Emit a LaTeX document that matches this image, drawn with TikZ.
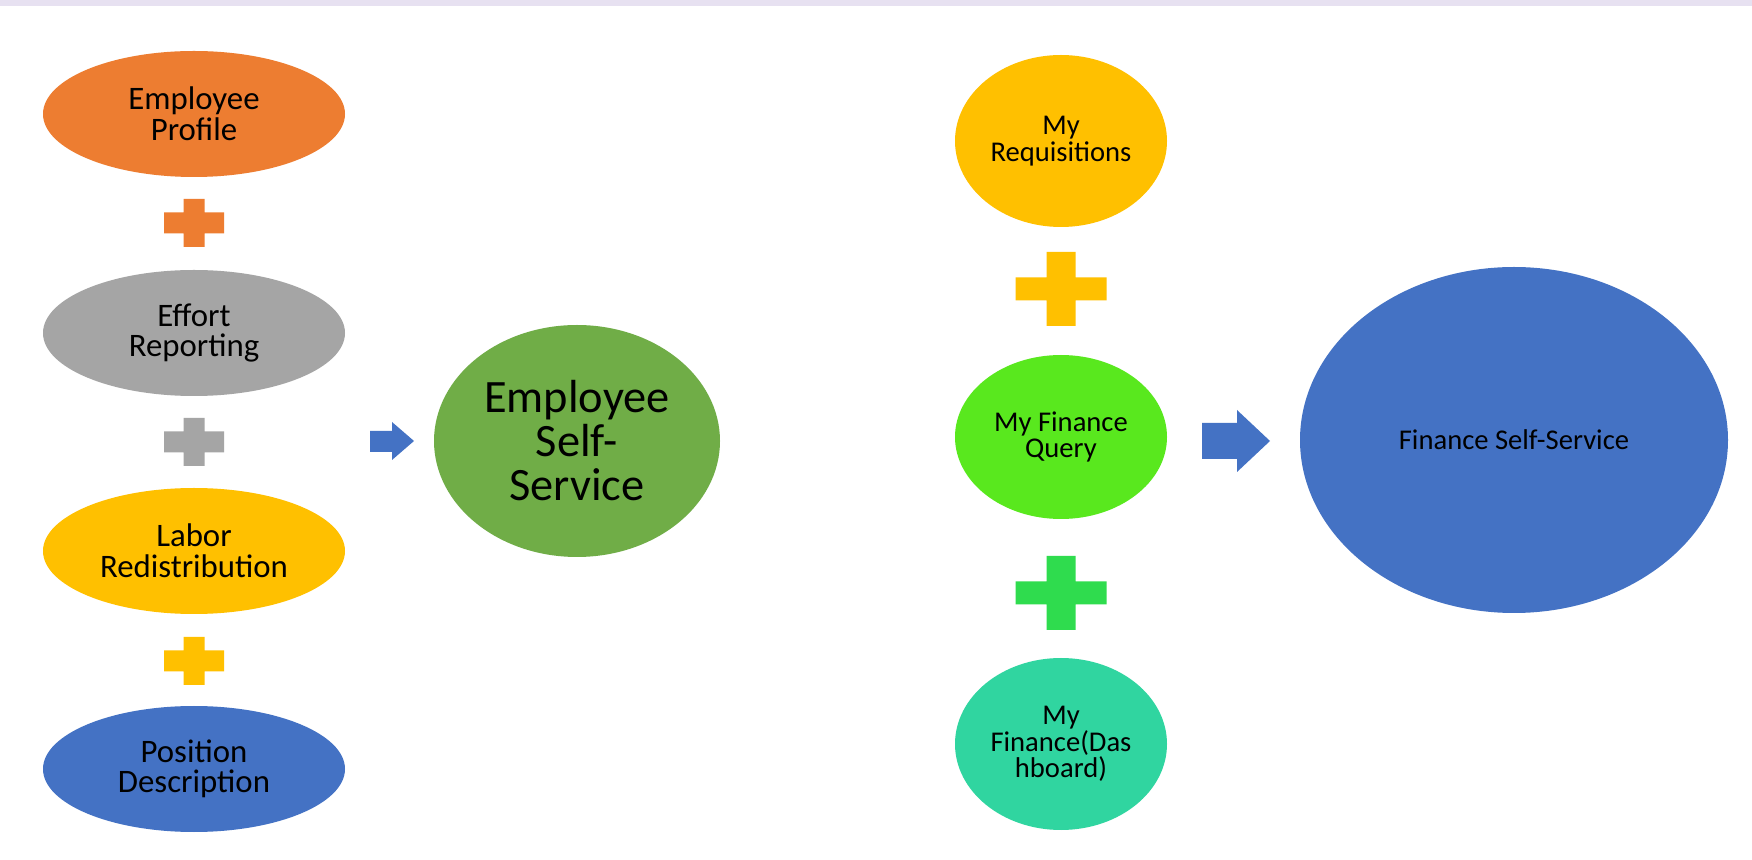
\documentclass[tikz,border=0pt]{standalone}
\usepackage{fontspec}
\setmainfont{Carlito}
\usetikzlibrary{shapes.geometric}
\definecolor{cOrange}{HTML}{ED7D31}
\definecolor{cGray}{HTML}{A5A5A5}
\definecolor{cGold}{HTML}{FFC000}
\definecolor{cBlue}{HTML}{4472C4}
\definecolor{cGreen}{HTML}{70AD47}
\definecolor{cLime}{HTML}{59E81E}
\definecolor{cPlusGreen}{HTML}{2FDC4E}
\definecolor{cTeal}{HTML}{30D5A0}
\definecolor{cBand}{HTML}{E7E1F1}
\begin{document}
\begin{tikzpicture}[x=0.5pt,y=-0.5pt,
  blob/.style={ellipse, inner sep=0pt, align=center, text=black},
  leftblob/.style={blob, minimum width=151pt, minimum height=63pt, font=\fontsize{16.4}{15.3}\selectfont},
  rightblob/.style={blob, minimum width=106pt, font=\fontsize{14.3}{13.4}\selectfont},
]
\useasboundingbox (0,0) rectangle (1752,860);
\fill[white] (0,0) rectangle (1752,860);
\fill[cBand] (0,0) rectangle (1752,6);

% left column
\node[leftblob, fill=cOrange] (ep) at (194,114) {Employee\\Profile};
\node[leftblob, fill=cGray]   (er) at (194,333) {Effort\\Reporting};
\node[leftblob, fill=cGold]   (lr) at (194,551) {Labor\\Redistribution};
\node[leftblob, fill=cBlue]   (pd) at (194,769) {Position\\Description};

% left pluses (w 60, h 48, arms 21)
\fill[cOrange] (164,212.5) rectangle (224,233.5) (183.5,199) rectangle (204.5,247);
\fill[cGray]   (164,431.5) rectangle (224,452.5) (183.5,418) rectangle (204.5,466);
\fill[cGold]   (164,650.5) rectangle (224,671.5) (183.5,637) rectangle (204.5,685);

% left arrow
\fill[cBlue] (370,431) -- (392,431) -- (392,422) -- (414,441) -- (392,460) -- (392,452) -- (370,452) -- cycle;

% employee self-service
\node[blob, fill=cGreen, minimum width=143pt, minimum height=116pt, font=\fontsize{23.2}{22}\selectfont] (ess) at (577,441) {Employee\\Self-\\Service};

% right column
\node[rightblob, fill=cGold, minimum height=86pt] (mr) at (1061,141) {My\\Requisitions};
\node[rightblob, fill=cLime, minimum height=82pt] (mfq) at (1061,437) {My Finance\\Query};
\node[rightblob, fill=cTeal, minimum height=86pt] (mfd) at (1061,744) {My\\Finance(Das\\hboard)};

% right pluses (w 91, h 74, vertical arm 29, horizontal arm 23)
\fill[cGold] (1015.5,277.5) rectangle (1106.5,300.5) (1046.5,252) rectangle (1075.5,326);
\fill[cPlusGreen] (1015.5,581.5) rectangle (1106.5,604.5) (1046.5,556) rectangle (1075.5,630);

% right arrow
\fill[cBlue] (1202,423) -- (1237,423) -- (1237,410) -- (1270,441) -- (1237,472) -- (1237,459) -- (1202,459) -- cycle;

% finance self-service
\node[blob, fill=cBlue, minimum width=214pt, minimum height=173pt, font=\fontsize{14.3}{14}\selectfont] (fss) at (1514,440) {Finance Self-Service};
\end{tikzpicture}
\end{document}
